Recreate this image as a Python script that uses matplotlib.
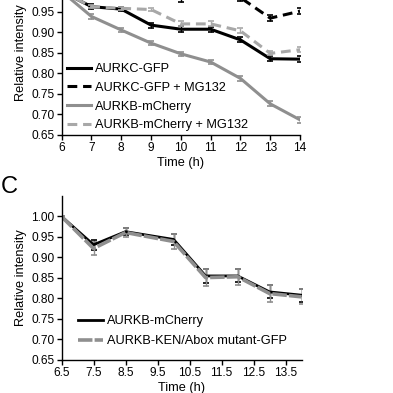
import matplotlib
matplotlib.use("Agg")
import matplotlib.pyplot as plt

plt.rcParams['font.family'] = ['Liberation Sans', 'DejaVu Sans']

# --- panel B (top, cut off) ---
ore_b = [6, 7, 8, 9, 10, 11, 12, 13, 14]
aurkc = [1.0, 0.963, 0.957, 0.918, 0.908, 0.908, 0.882, 0.836, 0.835]
aurkc_err = [0, 0.006, 0.005, 0.006, 0.007, 0.006, 0.006, 0.006, 0.008]
aurkc_mg = [1.0, 1.005, 1.0, 0.995, 0.99, 0.995, 0.985, 0.935, 0.952]
aurkc_mg_err = [0, 0.008, 0.008, 0.008, 0.015, 0.008, 0.008, 0.008, 0.007]
aurkb = [1.0, 0.939, 0.906, 0.874, 0.848, 0.828, 0.788, 0.726, 0.687]
aurkb_err = [0, 0.005, 0.004, 0.005, 0.005, 0.005, 0.006, 0.006, 0.007]
aurkb_mg = [1.0, 0.963, 0.959, 0.956, 0.921, 0.921, 0.904, 0.849, 0.858]
aurkb_mg_err = [0, 0.004, 0.004, 0.004, 0.006, 0.006, 0.006, 0.005, 0.006]

# --- panel C ---
ore_c = [6.5, 7.5, 8.5, 10, 11, 12, 13, 14]
mcherry = [1.0, 0.931, 0.963, 0.944, 0.855, 0.855, 0.816, 0.808]
mcherry_err = [0, 0.012, 0.008, 0.014, 0.018, 0.016, 0.016, 0.016]
ken = [1.0, 0.922, 0.961, 0.939, 0.851, 0.853, 0.812, 0.804]
ken_err = [0, 0.016, 0.011, 0.018, 0.021, 0.019, 0.02, 0.018]

nero = 'black'
grigio = '#8f8f8f'
grigio_chiaro = '#a8a8a8'
tratteggio = (0, (3.2, 1.9))
fs_tick = 8.6
fs_testo = 9.2


def stile_assi(ax):
    ax.spines['top'].set_visible(False)
    ax.spines['right'].set_visible(False)
    ax.spines['left'].set_linewidth(1.0)
    ax.spines['bottom'].set_linewidth(1.0)
    ax.tick_params(direction='out', length=3.5, width=1.0, labelsize=fs_tick, pad=1.5)
    ax.set_ylabel('Relative intensity', fontsize=fs_testo, labelpad=3)
    ax.set_xlabel('Time (h)', fontsize=fs_testo, labelpad=2)


fig = plt.figure(figsize=(3.93, 3.93), dpi=100)

# pannello superiore (esce dal bordo in alto)
ax1 = fig.add_axes([0.157, 0.6565, 0.6064, 0.4173])
serie_b = [
    (aurkc, aurkc_err, nero, '-', 'AURKC-GFP'),
    (aurkc_mg, aurkc_mg_err, nero, tratteggio, 'AURKC-GFP + MG132'),
    (aurkb, aurkb_err, grigio, '-', 'AURKB-mCherry'),
    (aurkb_mg, aurkb_mg_err, grigio_chiaro, tratteggio, 'AURKB-mCherry + MG132'),
]
for valori, errori, colore, ls, nome in serie_b:
    ax1.errorbar(ore_b, valori, yerr=errori, fmt='none', ecolor=colore,
                 elinewidth=1.0, capsize=2.5, capthick=1.2)
    ax1.plot(ore_b, valori, color=colore, ls=ls, lw=2.2, label=nome)
ax1.set_xlim(6, 14)
ax1.set_ylim(0.65, 1.05)
ax1.set_xticks(range(6, 15))
ax1.set_yticks([0.65, 0.70, 0.75, 0.80, 0.85, 0.90, 0.95])
ax1.yaxis.set_major_formatter(matplotlib.ticker.FormatStrFormatter('%.2f'))
stile_assi(ax1)
ax1.legend(loc='center left', bbox_to_anchor=(0.021, 0.23), frameon=False,
           fontsize=fs_testo, borderpad=0, borderaxespad=0, handlelength=1.9,
           handletextpad=0.35, labelspacing=0.52)

# pannello C
fig.text(0.003, 0.525, 'C', fontsize=17, va='center', ha='left')
ax2 = fig.add_axes([0.1565, 0.084, 0.611, 0.4173])
ax2.errorbar(ore_c, mcherry, yerr=mcherry_err, fmt='none', ecolor=nero,
             elinewidth=1.0, capsize=2.5, capthick=1.2)
ax2.errorbar(ore_c, ken, yerr=ken_err, fmt='none', ecolor=grigio,
             elinewidth=1.0, capsize=2.5, capthick=1.2)
ax2.plot(ore_c, mcherry, color=nero, lw=2.0, label='AURKB-mCherry')
ax2.plot(ore_c, ken, color=grigio, lw=2.6, ls=(0, (4.0, 0.6)),
         label='AURKB-KEN/Abox mutant-GFP')
ax2.set_xlim(6.5, 14)
ax2.set_ylim(0.65, 1.05)
ax2.set_xticks([6.5, 7.5, 8.5, 9.5, 10.5, 11.5, 12.5, 13.5])
ax2.set_yticks([0.65, 0.70, 0.75, 0.80, 0.85, 0.90, 0.95, 1.00])
ax2.yaxis.set_major_formatter(matplotlib.ticker.FormatStrFormatter('%.2f'))
stile_assi(ax2)
ax2.legend(loc='center left', bbox_to_anchor=(0.07, 0.175), frameon=False,
           fontsize=fs_testo, borderpad=0, borderaxespad=0, handlelength=1.9,
           handletextpad=0.35, labelspacing=0.65)

fig.savefig('out.png', dpi=100)
